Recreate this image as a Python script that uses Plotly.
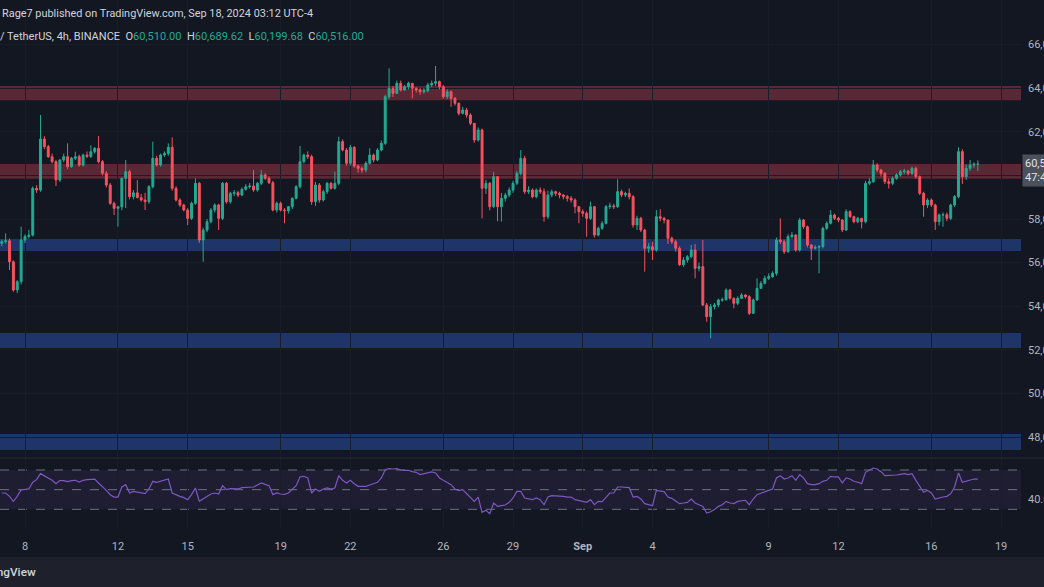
import plotly.graph_objects as go
import pandas as pd

W, H = 1044, 587

# ---------------- data ----------------
start_time = "2024-08-07 00:00"
first_open = 56880

closes = [
    56960, 57000, 56040, 54743, 55125, 57037,
    57200, 57260, 59406, 59330, 61669, 61318,
    60859, 60630, 59789, 60706, 60859, 60400,
    60783, 60859, 60477, 60935, 60870, 61088,
    61241, 60630, 60094, 59559, 58718, 58489,
    58560, 59865, 60171, 59024, 59200, 58980,
    58871, 58795, 59483, 60783, 60477, 60935,
    61000, 61287, 59406, 58871, 58642, 58412,
    58030, 58718, 59636, 57037, 57495, 57877,
    58412, 58642, 58030, 59636, 58795, 59177,
    59208, 59100, 59361, 59483, 59513, 59330,
    59636, 60018, 59865, 59666, 58412, 58718,
    58412, 58382, 58565, 58948, 59483, 60630,
    60935, 60859, 58795, 59559, 58871, 59254,
    59636, 59406, 59636, 61547, 61165, 60553,
    61287, 60430, 60325, 60247, 60553, 60935,
    60706, 61165, 61470, 63611, 63993, 63764,
    64223, 63917, 64070, 64223, 63993, 63917,
    63840, 63886, 64146, 64223, 64300, 64070,
    63611, 63840, 63535, 63305, 62847, 63000,
    62770, 62388, 61624, 62082, 59406, 59636,
    58565, 59942, 58565, 58948, 59100, 59330,
    59636, 60094, 60783, 59254, 59330, 59024,
    59330, 59254, 58107, 59100, 59254, 59177,
    59100, 59024, 58948, 58871, 58565, 58336,
    58260, 58030, 58565, 57266, 57572, 57801,
    58565, 58600, 58565, 59254, 59100, 59177,
    59024, 57725, 58030, 57495, 56654, 56730,
    56578, 58107, 58030, 57954, 57113, 56960,
    56654, 55900, 56119, 56272, 56578, 55737,
    55814, 54056, 53521, 53979, 54056, 54285,
    54300, 54744, 54362, 54132, 54362, 54514,
    54438, 53673, 54285, 54820, 55049, 55279,
    55355, 55508, 57037, 56961, 56502, 57190,
    57266, 56578, 57954, 57649, 56808, 56655,
    56700, 56731, 57572, 57802, 58184, 58031,
    57954, 57496, 58337, 58107, 57878, 58031,
    57878, 59636, 59713, 60477, 60248, 60095,
    59713, 59636, 59866, 60019, 60171, 60200,
    60095, 60324, 59942, 59178, 58643, 58872,
    58643, 57878, 58184, 58200, 58031, 58643,
    59025, 61089, 59942, 60324, 60477, 60510,
    60516.00,
]

highs = [
    57050, 57342, 57100, 56100, 55200, 57648,
    57300, 57500, 59500, 59550, 62770, 61800,
    61400, 61000, 60700, 60750, 61000, 61470,
    60850, 61088, 60950, 61000, 61100, 61380,
    61300, 61807, 60700, 60200, 59650, 58800,
    58600, 59900, 60706, 60250, 59330, 59789,
    59150, 59200, 59550, 61547, 60900, 61000,
    61100, 61470, 61746, 59500, 58950, 58700,
    58500, 58800, 59865, 59700, 57600, 58000,
    58500, 58718, 58700, 59700, 59700, 59250,
    59330, 59300, 59450, 59600, 59650, 60247,
    59700, 60247, 60100, 59950, 59750, 58800,
    58800, 58500, 58600, 59000, 59550, 61348,
    61000, 61100, 60950, 59700, 59650, 59350,
    59700, 59700, 60171, 61776, 61650, 61250,
    61400, 61340, 60500, 60400, 60650, 61240,
    61000, 61250, 61600, 63700, 64911, 64100,
    64350, 64350, 64150, 64300, 64200, 64050,
    64000, 64000, 64250, 64350, 65018, 64350,
    64150, 63950, 63900, 63600, 63350, 63150,
    63100, 62850, 62400, 62200, 62150, 59800,
    59700, 60150, 59950, 59200, 59200, 59450,
    59750, 60200, 61165, 60900, 59500, 59400,
    59400, 59450, 59400, 59300, 59350, 59300,
    59250, 59150, 59100, 59050, 58950, 58600,
    58450, 58350, 58795, 58600, 57650, 57900,
    58642, 58750, 58700, 59819, 59350, 59250,
    59400, 59100, 58150, 58100, 57550, 56900,
    56961, 58413, 58450, 58100, 57950, 57200,
    57050, 56750, 56250, 56350, 56808, 56850,
    56000, 57037, 54150, 54100, 54150, 54350,
    54400, 54820, 54800, 54400, 54450, 54600,
    54550, 54500, 54350, 55279, 55150, 55400,
    55500, 55600, 57150, 58031, 57050, 57300,
    57400, 57300, 58050, 58000, 57700, 56850,
    56800, 56800, 57650, 57900, 58413, 58250,
    58100, 58000, 58450, 58400, 58150, 58100,
    58050, 59750, 59866, 60707, 60554, 60300,
    60150, 59866, 59950, 60100, 60250, 60300,
    60250, 60400, 60400, 60000, 59250, 58950,
    58950, 58700, 58250, 58300, 58300, 58700,
    59100, 61288, 61200, 60500, 60707, 60600,
    60689.62,
]

lows = [
    56750, 56880, 55660, 54667, 54600, 55000,
    56900, 57100, 57200, 59200, 59250, 61200,
    60800, 60550, 59513, 59700, 60600, 60300,
    60350, 60700, 60400, 60400, 60800, 60800,
    61000, 60550, 60000, 59450, 58650, 58183,
    57648, 58400, 58500, 58900, 58900, 58950,
    58800, 58412, 58700, 59400, 60400, 60400,
    60850, 60900, 59300, 58800, 58550, 58350,
    57725, 57950, 58650, 56900, 56042, 57400,
    57800, 58300, 57495, 57950, 58700, 58700,
    59050, 59000, 59050, 59300, 59400, 59250,
    59250, 59550, 59800, 59600, 58350, 58300,
    58350, 57801, 58250, 58450, 58900, 59400,
    60550, 60750, 58650, 58600, 58750, 58800,
    59150, 59350, 59350, 59550, 61100, 60450,
    60450, 60350, 60130, 60120, 60150, 60500,
    60600, 60650, 61100, 61400, 63500, 63600,
    63750, 63850, 63900, 63950, 63535, 63800,
    63700, 63750, 63800, 64050, 64100, 63950,
    63500, 63500, 63152, 63200, 62750, 62800,
    62650, 62300, 61500, 61550, 58030, 59150,
    58400, 58500, 57900, 57877, 58800, 59000,
    59200, 59550, 60000, 59150, 59150, 58950,
    58950, 59150, 57877, 58000, 59000, 59050,
    58950, 58900, 58800, 58750, 58260, 57801,
    58100, 57189, 57950, 57150, 57200, 57500,
    57750, 58450, 58450, 58500, 59000, 59000,
    58900, 57600, 57500, 57400, 55584, 56450,
    56120, 56500, 57900, 57800, 56850, 56850,
    56500, 55850, 55800, 56000, 56200, 55279,
    55600, 54000, 53291, 52527, 53850, 53950,
    54200, 54250, 54300, 53903, 54050, 54400,
    54350, 53600, 53650, 54250, 54800, 55000,
    55200, 55300, 55400, 56850, 56400, 56450,
    57100, 56500, 56500, 57550, 56700, 56120,
    56600, 55508, 56650, 57500, 57750, 57950,
    57850, 57400, 57450, 58050, 57800, 57800,
    57572, 57800, 59550, 59650, 60150, 59950,
    59600, 59400, 59550, 59800, 59950, 60050,
    60000, 60000, 59850, 59100, 58107, 58500,
    58550, 57496, 57700, 57650, 57900, 57950,
    58550, 58950, 59600, 59800, 60200, 60350,
    60199.68,
]

rsi = [
    46.6, 46.6, 43.2, 38.1, 43.2, 50.0, 50.3, 50.7, 57.5, 60.2,
    66.3, 64.2, 61.9, 59.5, 56.1, 59.2, 59.2, 58.1, 59.2, 59.5,
    57.8, 59.5, 60.2, 60.5, 60.8, 56.8, 53.4, 49.3, 44.9, 42.5,
    42.5, 52.7, 55.1, 46.6, 48.3, 47.3, 46.6, 45.9, 50.7, 58.5,
    57.5, 58.8, 59.5, 60.8, 46.6, 44.6, 43.2, 41.9, 39.8, 44.9,
    51.7, 38.1, 40.5, 43.2, 45.6, 46.6, 45.6, 54.1, 50.0, 51.0,
    51.0, 50.7, 52.0, 52.4, 52.7, 52.7, 54.7, 56.8, 55.4, 54.1,
    44.9, 46.6, 45.6, 45.3, 46.6, 50.0, 54.1, 62.9, 63.6, 61.9,
    46.6, 50.7, 48.3, 50.7, 51.7, 50.7, 51.7, 64.2, 59.5, 56.8,
    59.5, 56.1, 53.4, 53.4, 53.4, 54.7, 56.1, 57.5, 61.9, 70.3,
    71.4, 71.0, 71.4, 70.0, 69.7, 69.7, 68.3, 67.6, 65.3, 66.3,
    67.6, 68.0, 67.0, 61.9, 59.5, 57.5, 55.1, 50.7, 49.0, 50.0,
    45.9, 42.5, 38.1, 42.5, 26.9, 29.0, 25.6, 36.4, 33.0, 33.7,
    34.4, 37.1, 41.5, 48.3, 48.3, 41.5, 40.5, 39.8, 41.5, 39.8,
    34.7, 42.5, 43.9, 43.9, 43.9, 43.2, 42.5, 42.5, 39.8, 39.2,
    38.1, 37.1, 39.8, 34.7, 38.1, 37.8, 42.5, 46.6, 46.6, 52.7,
    52.7, 52.7, 52.0, 42.5, 43.2, 40.5, 35.8, 34.7, 33.7, 49.3,
    49.0, 48.0, 42.5, 41.2, 38.5, 35.8, 36.4, 37.1, 40.5, 36.4,
    34.7, 33.0, 26.3, 27.5, 29.7, 33.0, 34.7, 38.1, 36.4, 35.8,
    38.1, 38.5, 39.2, 34.7, 40.5, 44.9, 46.6, 48.0, 49.3, 50.7,
    61.9, 64.2, 60.8, 61.9, 64.2, 59.5, 65.3, 61.9, 56.1, 55.1,
    55.1, 56.1, 58.5, 59.5, 63.6, 62.9, 62.9, 56.8, 61.9, 60.8,
    58.5, 57.5, 56.1, 67.6, 69.7, 72.0, 71.0, 68.3, 64.2, 64.2,
    64.2, 64.9, 65.6, 66.3, 65.3, 66.3, 59.5, 53.4, 47.3, 49.3,
    46.6, 40.5, 41.9, 42.5, 43.2, 45.9, 52.7, 67.0, 57.5, 58.8,
    60.2, 60.8, 60.8,
]

zone_lows = [63450, 59850, 56530, 52080, 47400]
zone_highs = [64100, 60520, 57080, 52770, 48140]
zone_colors = ["#5a2834", "#5a2834", "#1f3468", "#1f3468", "#1f3468"]

price_ticks = [48000, 50000, 52000, 54000, 56000, 58000, 60000, 62000, 64000, 66000]
rsi_ticks = [40]
rsi_levels = [70, 50, 30]

time_tick_dates = ["2024-08-08", "2024-08-12", "2024-08-15", "2024-08-19", "2024-08-22",
                   "2024-08-26", "2024-08-29", "2024-09-01", "2024-09-04", "2024-09-09",
                   "2024-09-12", "2024-09-16", "2024-09-19"]
time_tick_labels = ["8", "12", "15", "19", "22", "26", "29", "<b>Sep</b>", "4", "9", "12", "16", "19"]

x_range = ["2024-08-06 22:11", "2024-09-19 20:34"]
price_range = [47037, 68046]
rsi_range = [11.0, 82.2]

countdown = "47:48"

# ---------------- figure ----------------
times = pd.date_range(start_time, periods=len(closes), freq="4h")
opens = [first_open] + closes[:-1]
highs = [max(h, o, c) for h, o, c in zip(highs, opens, closes)]
lows = [min(l, o, c) for l, o, c in zip(lows, opens, closes)]

UP, DOWN = "#22ab94", "#f7525f"
BG = "#131722"
GRID = "#191d29"
TXT = "#b2b5be"
FONT = "Roboto, Inter, sans-serif"


def px_x(x):
    return x / W


def px_y(y):
    return 1 - y / H


plot_right = px_x(1021)
last_price = closes[-1]
# the last-price label covers the tick label next to it, as on the original chart
price_ticktext = ["" if abs(v - last_price) < 800 else f"{v:,.2f}" for v in price_ticks]

fig = go.Figure()
fig.add_trace(go.Candlestick(
    x=times, open=opens, high=highs, low=lows, close=closes,
    increasing=dict(line=dict(color=UP, width=1), fillcolor=UP),
    decreasing=dict(line=dict(color=DOWN, width=1), fillcolor=DOWN),
    whiskerwidth=0, xaxis="x", yaxis="y", showlegend=False, hoverinfo="skip",
))
fig.add_trace(go.Scatter(
    x=times, y=rsi, mode="lines", line=dict(color="#7e57c2", width=1.2),
    xaxis="x2", yaxis="y2", showlegend=False, hoverinfo="skip",
))

shapes = []
# bottom bar
shapes.append(dict(type="rect", xref="paper", yref="paper", x0=0, x1=1, y0=0, y1=px_y(557),
                   fillcolor="#1e212b", line=dict(width=0), layer="below"))
# zones
for lo, hi, col in zip(zone_lows, zone_highs, zone_colors):
    shapes.append(dict(type="rect", xref="x domain", yref="y", x0=0, x1=1, y0=lo, y1=hi,
                       fillcolor=col, line=dict(width=0), layer="below"))
# rsi band
shapes.append(dict(type="rect", xref="x2 domain", yref="y2", x0=0, x1=1,
                   y0=min(rsi_levels), y1=max(rsi_levels),
                   fillcolor="rgba(126,87,194,0.10)", line=dict(width=0), layer="below"))
for lv in rsi_levels:
    shapes.append(dict(type="line", xref="x2 domain", yref="y2", x0=0, x1=1, y0=lv, y1=lv,
                       line=dict(color="#6f7280", width=1, dash="dash"), layer="below"))
# pane separator
shapes.append(dict(type="line", xref="paper", yref="paper", x0=0, x1=1, y0=px_y(458), y1=px_y(458),
                   line=dict(color="#262a36", width=1)))

annotations = []
annotations.append(dict(xref="paper", yref="paper", x=px_x(0), y=px_y(13), xanchor="left", yanchor="middle",
                        text="Rage7 published on TradingView.com, Sep 18, 2024 03:12 UTC-4",
                        showarrow=False, font=dict(family=FONT, size=10.9, color="#d1d4dc")))
val = lambda v: f"<span style='color:{UP}'>{v:,.2f}</span>"
hdr2 = ("/ TetherUS, 4h, BINANCE  O" + val(opens[-1]) + "  H" + val(highs[-1]) +
        "  L" + val(lows[-1]) + "  C" + val(closes[-1]))
annotations.append(dict(xref="paper", yref="paper", x=px_x(-2), y=px_y(36), xanchor="left", yanchor="middle",
                        text=hdr2, showarrow=False, font=dict(family=FONT, size=11, color="#d1d4dc")))
annotations.append(dict(xref="paper", yref="paper", x=px_x(1022), y=px_y(170), xanchor="left", yanchor="middle",
                        text=f"{last_price:,.2f}<br>{countdown}", align="left", showarrow=False,
                        bgcolor="#4c505b", borderpad=2,
                        font=dict(family=FONT, size=11, color="#e0e3eb")))
annotations.append(dict(xref="paper", yref="paper", x=px_x(38), y=px_y(572), xanchor="right", yanchor="middle",
                        text="TradingView", showarrow=False,
                        font=dict(family=FONT, size=11.8, color="#d1d4dc", weight=500)))

fig.update_layout(
    width=W, height=H, autosize=False,
    margin=dict(l=0, r=0, t=0, b=0, autoexpand=False),
    paper_bgcolor=BG, plot_bgcolor=BG,
    font=dict(family=FONT, size=11, color=TXT),
    shapes=shapes, annotations=annotations,
    xaxis=dict(domain=[0, plot_right], anchor="y", type="date", range=x_range, automargin=False,
               rangeslider=dict(visible=False), tickvals=time_tick_dates, showticklabels=False,
               showgrid=True, gridcolor=GRID, gridwidth=1, zeroline=False, showline=False, ticks=""),
    yaxis=dict(domain=[px_y(458), 1], anchor="x", side="right", range=price_range, automargin=False,
               tickvals=price_ticks, ticktext=price_ticktext,
               showgrid=True, gridcolor=GRID, zeroline=False, showline=False, ticks="",
               ticklabelstandoff=6, tickfont=dict(family=FONT, size=11, color=TXT)),
    xaxis2=dict(domain=[0, plot_right], anchor="y2", type="date", range=x_range, automargin=False,
                tickvals=time_tick_dates, ticktext=time_tick_labels,
                showgrid=True, gridcolor=GRID, zeroline=False, showline=False, ticks="",
                ticklabelstandoff=10, tickfont=dict(family=FONT, size=11, color=TXT)),
    yaxis2=dict(domain=[px_y(528), px_y(458)], anchor="x2", side="right", range=rsi_range, automargin=False,
                tickvals=rsi_ticks, ticktext=[f"{v:.2f}" for v in rsi_ticks],
                showgrid=False, zeroline=False, showline=False, ticks="",
                ticklabelstandoff=6, tickfont=dict(family=FONT, size=11, color=TXT)),
)

fig.write_html("out.html")
